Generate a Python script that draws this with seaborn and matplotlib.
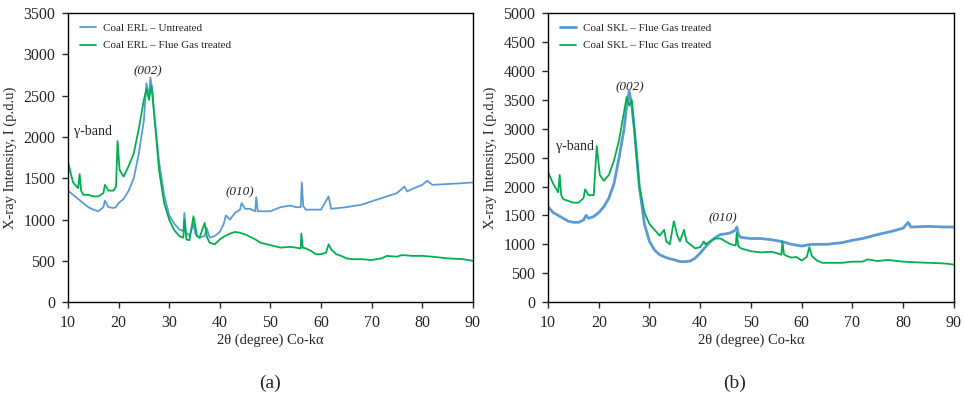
import pandas as pd
import seaborn as sns
import matplotlib
matplotlib.use('Agg')
import matplotlib.pyplot as plt

# ---- data ----
# panel (a): coal ERL
erl_x_untreated = [10, 11, 12, 13, 14, 15, 16, 17, 17.3, 18, 19, 19.5, 20, 21, 22, 23, 24, 25, 25.5, 26, 26.3, 26.7,
                   27, 28, 29, 30, 31, 32, 32.8, 33, 33.3, 34, 34.8, 35.2, 36, 37, 37.4, 38, 39, 40, 40.8, 41.2,
                   42, 43, 44, 44.3, 45, 46, 47, 47.2, 47.5, 48, 50, 52, 53, 54, 55, 56, 56.2, 56.5, 57, 58, 60,
                   61.5, 62, 65, 68, 70, 72, 75, 76.5, 77, 78, 80, 81, 82, 85, 88, 90]
erl_untreated = [1350, 1300, 1250, 1200, 1150, 1120, 1100, 1150, 1230, 1150, 1140, 1150, 1200, 1250, 1350, 1500,
                 1800, 2200, 2650, 2500, 2720, 2550, 2300, 1700, 1300, 1050, 950, 880, 860, 1080, 850, 800, 950,
                 820, 780, 800, 900, 780, 800, 850, 950, 1050, 1000, 1080, 1120, 1200, 1130, 1130, 1100, 1270, 1100,
                 1100, 1100, 1150, 1160, 1170, 1150, 1150, 1450, 1160, 1120, 1120, 1120, 1280, 1130, 1150, 1180, 1220,
                 1260, 1320, 1400, 1340, 1370, 1420, 1470, 1420, 1430, 1440, 1450]

erl_x_treated = [10, 11, 12, 12.3, 12.6, 13, 14, 15, 16, 17, 17.3, 18, 19, 19.5, 19.8, 20.2, 21, 22, 23, 24, 25, 25.5,
                 26, 26.5, 27, 28, 29, 30, 31, 32, 32.8, 33, 33.4, 34, 34.8, 35.5, 36, 37, 37.5, 38, 39, 40, 41,
                 42, 43, 44, 45, 46, 47, 48, 50, 52, 54, 55, 56, 56.1, 56.4, 57, 58, 59, 60, 61, 61.5, 62, 63, 64,
                 65, 66, 68, 70, 72, 73, 75, 76, 78, 80, 82, 85, 88, 90]
erl_treated = [1700, 1450, 1380, 1550, 1350, 1300, 1300, 1280, 1280, 1320, 1420, 1350, 1350, 1400, 1950, 1600, 1520,
               1650, 1800, 2100, 2450, 2580, 2450, 2620, 2300, 1600, 1200, 1000, 870, 800, 780, 1000, 760, 750, 1040,
               800, 780, 960, 780, 720, 700, 760, 800, 830, 850, 840, 820, 790, 760, 720, 690, 660, 670, 660, 650,
               830, 660, 650, 620, 580, 580, 600, 700, 640, 580, 560, 530, 520, 520, 510, 530, 560, 550, 570, 560,
               560, 550, 530, 520, 500]

# panel (b): coal SKL
skl_x_blue = [10, 11, 12, 13, 14, 15, 16, 17, 17.5, 18, 19, 20, 21, 22, 23, 24, 25, 25.5, 26, 26.5, 27, 28, 29, 30,
              31, 32, 33, 34, 35, 36, 37, 38, 39, 40, 41, 42, 43, 44, 45, 46, 47, 47.2, 47.6, 48, 50, 52, 54, 56,
              58, 60, 62, 65, 68, 70, 72, 75, 78, 80, 81, 81.5, 82, 85, 88, 90]
skl_blue = [1650, 1550, 1500, 1450, 1400, 1380, 1380, 1420, 1500, 1450, 1480, 1550, 1650, 1800, 2050, 2500, 3000,
            3400, 3650, 3400, 3000, 2000, 1350, 1050, 900, 820, 780, 750, 730, 700, 700, 710, 760, 850, 950, 1050,
            1120, 1170, 1180, 1200, 1250, 1300, 1150, 1120, 1100, 1100, 1080, 1050, 1000, 970, 1000, 1000, 1030,
            1070, 1100, 1170, 1230, 1280, 1380, 1300, 1300, 1310, 1300, 1300]

skl_x_green = [10, 11, 12, 12.3, 12.6, 13, 14, 15, 16, 17, 17.3, 18, 19, 19.6, 20.2, 21, 22, 23, 24, 25, 25.5, 26,
               26.5, 27, 28, 29, 30, 31, 32, 32.9, 33.3, 34, 34.8, 35.5, 36, 36.8, 37.3, 38, 39, 40, 40.7, 41, 42,
               43, 44, 45, 46, 47, 47.2, 47.5, 48, 50, 52, 54, 55, 56, 56.2, 56.5, 57, 58, 59, 60, 61, 61.5, 62,
               63, 64, 66, 68, 70, 72, 73, 75, 77, 80, 82, 85, 88, 90]
skl_green = [2250, 2050, 1900, 2200, 1850, 1780, 1750, 1720, 1720, 1800, 1950, 1850, 1850, 2700, 2200, 2100, 2200,
             2450, 2800, 3300, 3550, 3400, 3500, 3000, 2000, 1550, 1350, 1250, 1150, 1250, 1050, 1000, 1400, 1150,
             1050, 1250, 1050, 1000, 930, 950, 1050, 1000, 1050, 1100, 1100, 1050, 1000, 980, 1200, 970, 930, 880,
             860, 870, 850, 820, 1050, 830, 800, 770, 780, 720, 780, 950, 800, 720, 680, 680, 680, 700, 700, 740,
             710, 730, 700, 690, 680, 670, 650]

x_ticks = [10, 20, 30, 40, 50, 60, 70, 80, 90]

blue = '#5B9BD5'
green = '#00B050'

sns.set_style('ticks')
plt.rcParams['font.family'] = ['Liberation Serif', 'DejaVu Serif']
plt.rcParams['axes.edgecolor'] = 'black'

fig = plt.figure(figsize=(9.64, 3.97), dpi=100)
ax_a = fig.add_axes([0.0705, 0.239, 0.420, 0.728])
ax_b = fig.add_axes([0.5685, 0.239, 0.421, 0.728])


def draw_panel(ax, xs1, ys1, lab1, lw1, xs2, ys2, lab2, ymax, ystep):
    df1 = pd.DataFrame({'x': xs1, 'y': ys1})
    df2 = pd.DataFrame({'x': xs2, 'y': ys2})
    sns.lineplot(data=df1, x='x', y='y', ax=ax, color=blue, lw=lw1, label=lab1, estimator=None)
    sns.lineplot(data=df2, x='x', y='y', ax=ax, color=green, lw=1.3, label=lab2, estimator=None)
    ax.set_xlim(10, 90)
    ax.set_ylim(0, ymax)
    ax.set_xticks(x_ticks)
    ax.set_yticks(range(0, ymax + 1, ystep))
    ax.tick_params(direction='out', length=4, width=1, labelsize=11.5, pad=5)
    for sp in ax.spines.values():
        sp.set_visible(True)
        sp.set_linewidth(1.0)
    ax.set_xlabel('2θ (degree) Co-kα', fontsize=10.5, labelpad=2)
    ax.set_ylabel('X-ray Intensity, I (p.d.u)', fontsize=10.5, labelpad=5)
    ax.legend(loc='upper left', frameon=False, fontsize=8, handlelength=1.4, handletextpad=0.7,
              bbox_to_anchor=(0.005, 1.0), labelspacing=0.7)


draw_panel(ax_a, erl_x_untreated, erl_untreated, 'Coal ERL – Untreated', 1.3,
           erl_x_treated, erl_treated, 'Coal ERL – Flue Gas treated', 3500, 500)
draw_panel(ax_b, skl_x_blue, skl_blue, 'Coal SKL – Flue Gas treated', 2.0,
           skl_x_green, skl_green, 'Coal SKL – Fluc Gas treated', 5000, 500)

# peak labels
ax_a.text(25.8, 2800, '(002)', style='italic', fontsize=9.5, ha='center', va='center')
ax_a.text(15.0, 2070, 'γ-band', fontsize=10, ha='center', va='center')
ax_a.text(44.0, 1330, '(010)', style='italic', fontsize=9.5, ha='center', va='center')
ax_b.text(26.2, 3720, '(002)', style='italic', fontsize=9.5, ha='center', va='center')
ax_b.text(15.3, 2700, 'γ-band', fontsize=10, ha='center', va='center')
ax_b.text(44.5, 1450, '(010)', style='italic', fontsize=9.5, ha='center', va='center')

fig.text(0.280, 0.035, '(a)', fontsize=14, ha='center', va='center')
fig.text(0.762, 0.035, '(b)', fontsize=14, ha='center', va='center')

fig.savefig('out.png', dpi=100)
